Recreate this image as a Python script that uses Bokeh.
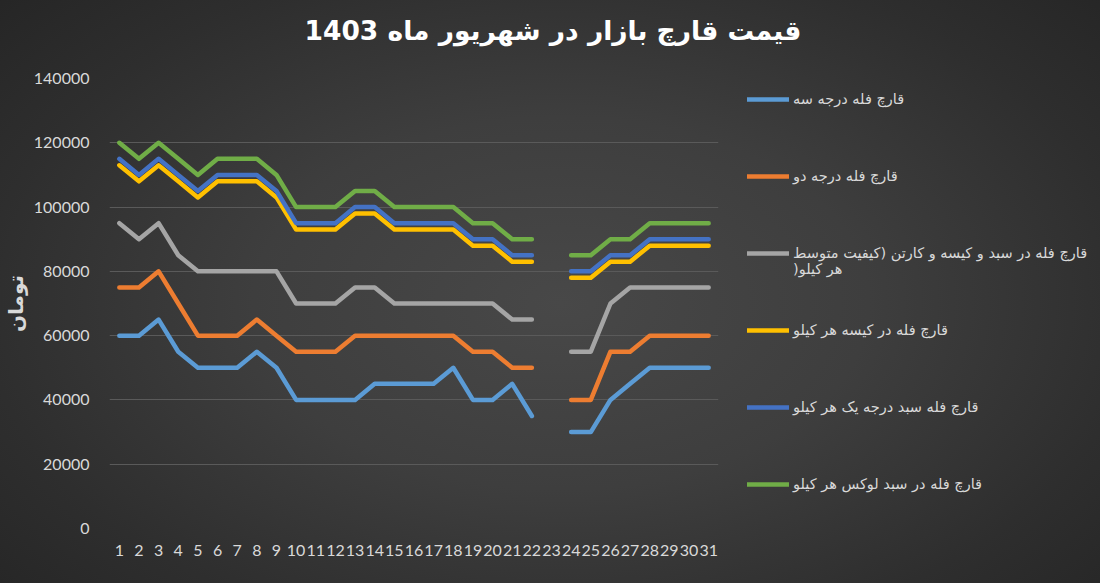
from bokeh.plotting import figure
from bokeh.models import Legend, LegendItem, FixedTicker, Range1d, BasicTickFormatter
from bokeh.embed import file_html
from bokeh.resources import INLINE

nan = float("nan")

days = list(range(1, 32))
day_labels = [str(d) for d in days]
y_ticks = [0, 20000, 40000, 60000, 80000, 100000, 120000, 140000]

title_text = "قیمت قارچ بازار در شهریور ماه 1403"
y_label = "تومان"

names = [
    "قارچ فله درجه سه",
    "قارچ فله درجه دو",
    "\nقارچ فله در سبد و کیسه و کارتن (کیفیت متوسط\n)هر کیلو",
    "قارچ فله در کیسه هر کیلو",
    "قارچ فله سبد درجه یک هر کیلو",
    "قارچ فله در سبد لوکس هر کیلو",
]

grade3 = [60000, 60000, 65000, 55000, 50000, 50000, 50000, 55000, 50000, 40000, 40000,
          40000, 40000, 45000, 45000, 45000, 45000, 50000, 40000, 40000, 45000, 35000,
          nan, 30000, 30000, 40000, 45000, 50000, 50000, 50000, 50000]
grade2 = [75000, 75000, 80000, 70000, 60000, 60000, 60000, 65000, 60000, 55000, 55000,
          55000, 60000, 60000, 60000, 60000, 60000, 60000, 55000, 55000, 50000, 50000,
          nan, 40000, 40000, 55000, 55000, 60000, 60000, 60000, 60000]
medium = [95000, 90000, 95000, 85000, 80000, 80000, 80000, 80000, 80000, 70000, 70000,
          70000, 75000, 75000, 70000, 70000, 70000, 70000, 70000, 70000, 65000, 65000,
          nan, 55000, 55000, 70000, 75000, 75000, 75000, 75000, 75000]
sack = [113000, 108000, 113000, 108000, 103000, 108000, 108000, 108000, 103000, 93000, 93000,
        93000, 98000, 98000, 93000, 93000, 93000, 93000, 88000, 88000, 83000, 83000,
        nan, 78000, 78000, 83000, 83000, 88000, 88000, 88000, 88000]
grade1 = [115000, 110000, 115000, 110000, 105000, 110000, 110000, 110000, 105000, 95000, 95000,
          95000, 100000, 100000, 95000, 95000, 95000, 95000, 90000, 90000, 85000, 85000,
          nan, 80000, 80000, 85000, 85000, 90000, 90000, 90000, 90000]
lux = [120000, 115000, 120000, 115000, 110000, 115000, 115000, 115000, 110000, 100000, 100000,
       100000, 105000, 105000, 100000, 100000, 100000, 100000, 95000, 95000, 90000, 90000,
       nan, 85000, 85000, 90000, 90000, 95000, 95000, 95000, 95000]

series = [grade3, grade2, medium, sack, grade1, lux]
colors = ["#5B9BD5", "#ED7D31", "#A5A5A5", "#FFC000", "#4472C4", "#70AD47"]

AR_FONT = "DejaVu Sans"
NUM_FONT = "Lato"
TXT = "#d9d9d9"

p = figure(frame_width=609, frame_height=450,
           min_border_left=107, min_border_right=384, min_border_top=78, min_border_bottom=55,
           x_range=Range1d(0.5, 31.5), y_range=Range1d(0, 140000),
           output_backend="svg", toolbar_location=None)

p.background_fill_alpha = 0
p.border_fill_alpha = 0
p.outline_line_color = None

p.title.text = title_text + "\n"
p.title.align = "left"
p.title.vertical_align = "top"
p.title.offset = 195
p.title.text_font = AR_FONT
p.title.text_font_size = "26.5px"
p.title.text_font_style = "bold"
p.title.text_color = "#ffffff"
p.title.standoff = 0

p.xaxis.ticker = FixedTicker(ticks=days)
p.xaxis.major_label_overrides = {d: l for d, l in zip(days, day_labels)}
p.yaxis.ticker = FixedTicker(ticks=y_ticks)
p.yaxis.formatter = BasicTickFormatter(use_scientific=False)
for ax in (p.xaxis, p.yaxis):
    ax.axis_line_color = None
    ax.major_tick_line_color = None
    ax.minor_tick_line_color = None
    ax.major_tick_out = 0
    ax.major_tick_in = 0
    ax.minor_tick_out = 0
    ax.minor_tick_in = 0
    ax.major_label_text_color = TXT
    ax.major_label_text_font = NUM_FONT
    ax.major_label_text_font_size = "16px"
p.xaxis.major_label_standoff = 16
p.yaxis.major_label_standoff = 20
p.yaxis.axis_label = y_label
p.yaxis.axis_label_text_font = AR_FONT
p.yaxis.axis_label_text_font_style = "bold"
p.yaxis.axis_label_text_font_size = "20px"
p.yaxis.axis_label_text_color = TXT
p.yaxis.axis_label_standoff = 3

p.xgrid.grid_line_color = None
p.ygrid.ticker = FixedTicker(ticks=y_ticks)
p.ygrid.grid_line_color = "#5a5a5a"
p.ygrid.grid_line_width = 1

items = []
for name, vals, col in zip(names, series, colors):
    r = p.line(days, vals, line_color=col, line_width=4.5,
               line_cap="round", line_join="round")
    items.append(LegendItem(label=name, renderers=[r]))

legend = Legend(items=items, location=(29, 8),
                glyph_width=42, glyph_height=72, label_height=72,
                label_standoff=4, spacing=5, padding=0, margin=0,
                label_text_font=AR_FONT, label_text_font_size="14.5px",
                label_text_color=TXT,
                border_line_color=None, background_fill_alpha=0)
p.add_layout(legend, "right")

template = """{% block postamble %}<style>
html { background: radial-gradient(ellipse 70% 80% at 51% 52%, #484848 0%, #3e3e3e 40%, #2e2e2e 75%, #252525 100%) !important; }
</style>{% endblock %}"""

open("out.html", "w").write(file_html(p, INLINE, template=template))
